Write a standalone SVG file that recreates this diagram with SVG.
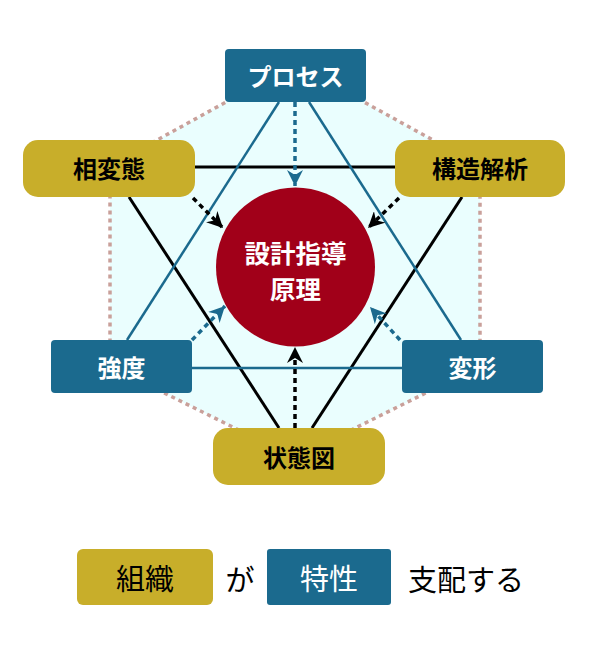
<svg xmlns="http://www.w3.org/2000/svg" width="590" height="664" viewBox="0 0 590 664">
<style>
.t{font-family:"Noto Sans CJK JP","Noto Sans",sans-serif;text-anchor:middle;dominant-baseline:central}
.b{font-weight:bold;font-size:24px}
.gold{fill:#c8ae2a}
.teal{fill:#1b6a8e}
.sk{stroke:#000;stroke-width:3;fill:none}
.st{stroke:#1b6a8e;stroke-width:2.5;fill:none}
.dk{stroke:#000;stroke-width:3.5;fill:none;stroke-dasharray:5 4}
.dt{stroke:#1b6a8e;stroke-width:3.5;fill:none;stroke-dasharray:5 4}
.lg{font-size:29px}
</style>
<defs>
<marker id="ak" markerUnits="userSpaceOnUse" markerWidth="18" markerHeight="16" refX="16" refY="8" orient="auto"><path d="M0,0 L16,8 L0,16 L5,8 z" fill="#000"/></marker>
<marker id="at" markerUnits="userSpaceOnUse" markerWidth="18" markerHeight="16" refX="16" refY="8" orient="auto"><path d="M0,0 L16,8 L0,16 L5,8 z" fill="#1b6a8e"/></marker>
</defs>
<polygon points="295,64 480,166 480,366 295,458 110,366 110,166" fill="#eafefe" stroke="#c9a09a" stroke-width="3.5" stroke-dasharray="4 4"/>
<g id="connectors">
<line class="sk" x1="195" y1="167" x2="395" y2="167"/>
<line class="sk" x1="129" y1="197" x2="279" y2="428"/>
<line class="sk" x1="462" y1="197" x2="312" y2="428"/>
<line class="st" x1="279" y1="102" x2="127" y2="340"/>
<line class="st" x1="309" y1="102" x2="461" y2="340"/>
<line class="st" x1="192" y1="368" x2="402" y2="368"/>
<line class="dt" x1="295" y1="102" x2="295" y2="186" marker-end="url(#at)"/>
<line class="dk" x1="193" y1="198" x2="223" y2="228" marker-end="url(#ak)"/>
<line class="dk" x1="399" y1="198" x2="368" y2="228" marker-end="url(#ak)"/>
<line class="dt" x1="192" y1="340" x2="225" y2="306" marker-end="url(#at)"/>
<line class="dt" x1="400" y1="340" x2="370" y2="307" marker-end="url(#at)"/>
<line class="dk" x1="295" y1="428" x2="295" y2="347" marker-end="url(#ak)"/>
</g>
<g id="center">
<circle cx="295.5" cy="267" r="79.5" fill="#a10019"/>
<text class="t" x="295.5" y="251" font-size="25.5" font-weight="bold" fill="#fff">設計指導</text>
<text class="t" x="295.5" y="287" font-size="25.5" font-weight="bold" fill="#fff">原理</text>
</g>
<g id="process">
<rect class="teal" x="225" y="49" width="141" height="53" rx="4"/>
<text class="t b" x="295.5" y="75" fill="#fff">プロセス</text>
</g>
<g id="soutai">
<rect class="gold" x="23" y="140" width="172" height="57" rx="15"/>
<text class="t b" x="109" y="167" fill="#000">相変態</text>
</g>
<g id="kouzou">
<rect class="gold" x="395" y="140" width="170" height="57" rx="15"/>
<text class="t b" x="480" y="167" fill="#000">構造解析</text>
</g>
<g id="kyoudo">
<rect class="teal" x="51" y="340" width="141" height="53" rx="4"/>
<text class="t b" x="121.5" y="366" fill="#fff">強度</text>
</g>
<g id="henkei">
<rect class="teal" x="402" y="340" width="141" height="53" rx="4"/>
<text class="t b" x="472.5" y="366" fill="#fff">変形</text>
</g>
<g id="joutaizu">
<rect class="gold" x="213" y="428" width="172" height="57" rx="15"/>
<text class="t b" x="299" y="456" fill="#000">状態図</text>
</g>
<g id="legend">
<rect class="gold" x="77" y="549" width="136" height="56" rx="6"/>
<text class="t lg" x="145" y="577" fill="#000">組織</text>
<text class="t lg" x="240" y="578" fill="#000">が</text>
<rect class="teal" x="267" y="549" width="124" height="56" rx="3"/>
<text class="t lg" x="329" y="577" fill="#fff">特性</text>
<text class="t lg" x="466" y="578" fill="#000">支配する</text>
</g>
</svg>
